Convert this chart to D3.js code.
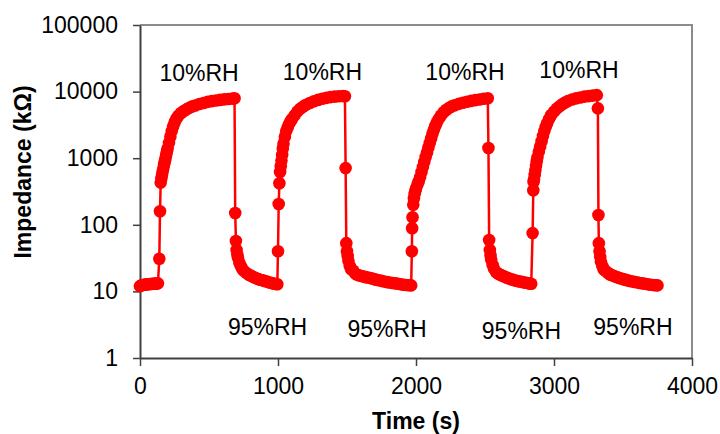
<!DOCTYPE html>
<html>
<head>
<meta charset="utf-8">
<script src="https://cdn.jsdelivr.net/npm/d3@7"></script>
<style>
  body { margin: 0; background: #fff; }
  text { font-family: Arial, "Liberation Sans", sans-serif; fill: #000; }
</style>
</head>
<body>
<div id="chart"></div>
<script>
// time (s) and impedance (kOhm), one pair of arrays per cycle
var cycle1Time = [0,10,20,30,40,50,60,70,80,90,100,110,120,130,
  140,145,150,155,160,165,170,175,180,185,190,195,200,210,220,230,240,250,260,270,280,300,320,340,360,380,400,430,460,490,520,550,580,610,640,670,685,
  690,695,700,705,710,720,730,740,750,770,790,805,820,835,850,865,880,895,910,925,940,955,970,985,995];
var cycle1Z = [12.0,12.3,12.5,12.6,12.7,12.8,12.8,12.9,12.9,13.0,13.0,13.1,13.1,13.2,
  31,160,430,500,570,640,720,810,900,1000,1120,1260,1400,1700,2100,2550,3000,3400,3800,4100,4400,4800,5150,5450,5750,6000,6200,6500,6750,7000,7200,7350,7500,7650,7750,7850,7950,
  150,57,42,36,32,27,24,22,20.5,19,17.8,17.1,16.5,16.0,15.5,15.1,14.8,14.5,14.2,13.9,13.6,13.3,13.1,12.9,12.8];

var cycle2Time = [1000,1005,1010,1015,1020,1025,1030,1035,1040,1050,1060,1070,1080,1090,1100,1120,1140,1160,1180,1200,1230,1260,1290,1320,1350,1380,1410,1440,1470,1485,
  1490,1495,1500,1505,1510,1520,1530,1545,1560,1575,1590,1605,1620,1635,1650,1670,1690,1710,1730,1750,1770,1790,1810,1830,1850,1870,1890,1910,1930,1950,1965];
var cycle2Z = [40,205,420,620,760,920,1120,1400,1650,2100,2550,2900,3250,3550,3850,4400,5000,5500,5900,6300,6750,7150,7500,7800,8050,8250,8400,8500,8600,8500,
  710,53,40,34,29,24,21.5,20.5,18.5,17.8,17.3,17.0,16.7,16.4,16.2,15.8,15.4,15.0,14.7,14.4,14.1,13.8,13.6,13.4,13.2,13.0,12.8,12.6,12.5,12.4,12.3];

var cycle3Time = [1970,1972,1975,1980,1985,1990,1995,2000,2010,2020,2030,2040,2050,2060,2070,2080,2090,2100,2110,2120,2130,2140,2150,2165,2180,2200,2220,2240,2260,2280,2310,2340,2370,2400,2430,2460,2490,2520,
  2525,2530,2535,2540,2545,2555,2565,2580,2590,2600,2615,2630,2645,2660,2675,2690,2705,2720,2735,2750,2765,2780,2795,2810,2825,2835];
var cycle3Z = [40,89,130,200,250,290,320,350,400,450,520,620,740,880,1040,1220,1450,1700,2000,2350,2700,3050,3400,3900,4350,4900,5350,5700,6000,6250,6550,6800,7050,7250,7450,7600,7800,7950,
  1420,59,42,35,30,25,22,19.5,18.8,18.2,17.6,17.0,16.5,16.0,15.6,15.2,14.9,14.6,14.3,14.1,13.9,13.7,13.5,13.3,13.1,13.0];

var cycle4Time = [2845,2850,2852,2855,2860,2865,2870,2875,2880,2890,2900,2910,2920,2930,2940,2950,2965,2980,3000,3020,3040,3060,3080,3100,3130,3160,3190,3220,3250,3280,3310,
  3318,3322,3325,3330,3335,3340,3350,3360,3370,3390,3400,3410,3425,3440,3455,3470,3485,3500,3515,3530,3545,3560,3580,3600,3620,3640,3660,3680,3700,3720,3735,3750];
var cycle4Z = [75,330,440,480,560,660,780,900,1030,1250,1500,1800,2150,2550,2950,3350,3900,4450,5000,5550,6000,6450,6850,7200,7600,7900,8150,8400,8550,8700,8850,
  5600,140,53,40,33,28,24,21.5,20.5,19,18.4,17.8,17.3,16.8,16.4,16.0,15.6,15.3,15.0,14.7,14.4,14.2,13.9,13.7,13.4,13.2,13.0,12.8,12.6,12.5,12.4,12.3];

var xTicks = [0, 1000, 2000, 3000, 4000];
var yTicks = [1, 10, 100, 1000, 10000, 100000];

// annotation labels: text, time (s) of label centre, impedance at baseline
var labelText = ['10%RH','10%RH','10%RH','10%RH','95%RH','95%RH','95%RH','95%RH'];
var labelTime = [428, 1322, 2355, 3181, 924, 1790, 2764, 3572];
var labelZ = [14400, 14900, 14900, 16000, 2.2, 2.07, 1.93, 2.2];

var width = 720, height = 434;
var margin = {top: 25, right: 28, bottom: 76, left: 140};

var times = cycle1Time.concat(cycle2Time, cycle3Time, cycle4Time);
var zs = cycle1Z.concat(cycle2Z, cycle3Z, cycle4Z);
var data = times.map(function(t, i) { return {t: t, z: zs[i]}; });

var x = d3.scaleLinear()
    .domain([0, 4000])
    .range([margin.left, width - margin.right]);

var y = d3.scaleLog()
    .domain([1, 100000])
    .range([height - margin.bottom, margin.top]);

var svg = d3.select('#chart').append('svg')
    .attr('width', width)
    .attr('height', height);

// grey frame on top and right
svg.append('path')
    .attr('d', 'M' + x(0) + ',' + y(100000) + 'H' + x(4000) + 'V' + y(1))
    .attr('fill', 'none')
    .attr('stroke', '#8c8c8c')
    .attr('stroke-width', 2);

var xAxis = d3.axisBottom(x)
    .tickValues(xTicks)
    .tickFormat(d3.format('d'))
    .tickSizeInner(8)
    .tickSizeOuter(0)
    .tickPadding(12);

var yAxis = d3.axisLeft(y)
    .tickValues(yTicks)
    .tickFormat(d3.format('d'))
    .tickSizeInner(7)
    .tickSizeOuter(0)
    .tickPadding(15);

var gx = svg.append('g')
    .attr('transform', 'translate(0,' + y(1) + ')')
    .call(xAxis);

var gy = svg.append('g')
    .attr('transform', 'translate(' + x(0) + ',0)')
    .call(yAxis);

[gx, gy].forEach(function(g) {
  g.select('.domain').attr('stroke', '#404040').attr('stroke-width', 2);
  g.selectAll('.tick line').attr('stroke', '#404040').attr('stroke-width', 1.5);
  g.selectAll('.tick text')
      .attr('font-family', 'Arial, "Liberation Sans", sans-serif')
      .attr('font-size', 23)
      .attr('fill', '#000');
});

var line = d3.line()
    .x(function(d) { return x(d.t); })
    .y(function(d) { return y(d.z); });

svg.append('path')
    .datum(data)
    .attr('d', line)
    .attr('fill', 'none')
    .attr('stroke', '#ff0000')
    .attr('stroke-width', 2.5);

svg.append('g')
    .selectAll('circle')
    .data(data)
    .enter()
    .append('circle')
    .attr('cx', function(d) { return x(d.t); })
    .attr('cy', function(d) { return y(d.z); })
    .attr('r', 6.3)
    .attr('fill', '#ff0000');

svg.append('g')
    .selectAll('text')
    .data(labelText)
    .enter()
    .append('text')
    .attr('x', function(d, i) { return x(labelTime[i]); })
    .attr('y', function(d, i) { return y(labelZ[i]); })
    .attr('text-anchor', 'middle')
    .attr('font-size', 23)
    .text(function(d) { return d; });

svg.append('text')
    .attr('x', (x(0) + x(4000)) / 2)
    .attr('y', 429)
    .attr('text-anchor', 'middle')
    .attr('font-size', 23)
    .attr('font-weight', 'bold')
    .text('Time (s)');

svg.append('text')
    .attr('transform', 'translate(31,172) rotate(-90)')
    .attr('text-anchor', 'middle')
    .attr('font-size', 23)
    .attr('font-weight', 'bold')
    .text('Impedance (kΩ)');
</script>
</body>
</html>
